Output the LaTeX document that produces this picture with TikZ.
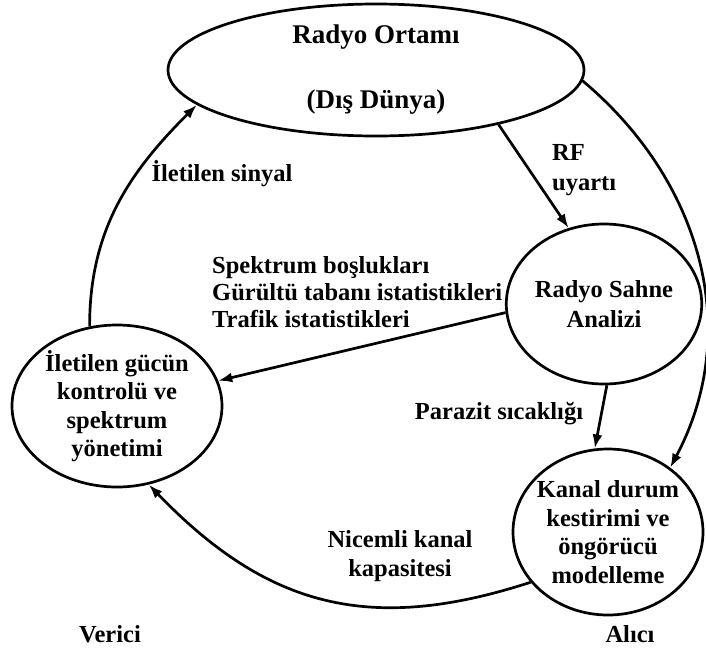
\documentclass[tikz,border=0pt]{standalone}
\usepackage{fontspec}
\setmainfont{Liberation Serif}
\usetikzlibrary{arrows.meta,shapes.geometric}

\tikzset{
  blob/.style={draw, ellipse, line width=2.7pt, inner sep=0pt, align=center},
  flow/.style={line width=2.7pt, -{Latex[length=14pt,width=10pt]}},
  lbl/.style={inner sep=0pt, align=left},
}

\begin{document}
\begin{tikzpicture}[x=1pt,y=1pt,yscale=-1,font=\bfseries\fontsize{24.5}{28.5}\selectfont]
\useasboundingbox (0,0) rectangle (706,664);

%Shape: Ellipse [id:ortam]
\node[blob, minimum width=416, minimum height=132, font=\bfseries\fontsize{27}{30}\selectfont] (ortam) at (376,70) {Radyo Ortamı\\[35pt](Dış Dünya)};
%Shape: Ellipse [id:sahne]
\node[blob, minimum width=172, minimum height=160] (sahne) at (604,304) {Radyo Sahne\\[2pt]Analizi};
%Shape: Ellipse [id:verici]
\node[blob, minimum width=210, minimum height=162] (verici) at (117,406) {İletilen gücün\\kontrolü ve\\spektrum\\yönetimi};
%Shape: Ellipse [id:kanal]
\node[blob, inner xsep=-12pt, minimum width=190, minimum height=166] (kanal) at (608,532) {Kanal durum\\kestirimi ve\\öngörücü\\modelleme};

% Text Node
\node[lbl] (sinyal) at (222,174) {İletilen sinyal};
% Text Node
\node[lbl, anchor=west] (rf) at (552,170) {RF\\[2pt]uyartı};
% Text Node
\node[lbl, anchor=west, font=\bfseries\fontsize{24.5}{27}\selectfont] (istat) at (212,292) {Spektrum boşlukları\\Gürültü tabanı istatistikleri\\Trafik istatistikleri};
% Text Node
\node[lbl] (parazit) at (499,414) {Parazit sıcaklığı};
% Text Node
\node[lbl, align=center] (kapasite) at (400,556) {Nicemli kanal\\kapasitesi};
% Text Node
\node[lbl] (tx) at (110,634) {Verici};
% Text Node
\node[lbl] (rx) at (630,634) {Alıcı};

\draw[flow] (verici.109) to[out=-90,in=135] (ortam.191);
\draw[flow] (ortam.336) -- (sahne.115);
\draw[flow] (ortam.357) to[out=40,in=-62] (kanal.46);
\draw[flow] (sahne.185) -- (verici.14);
\draw[flow] (sahne.272) -- (kanal.99);
\draw[flow] (kanal.213) to[out=162,in=46,looseness=1.1] (verici.292);

\end{tikzpicture}
\end{document}
